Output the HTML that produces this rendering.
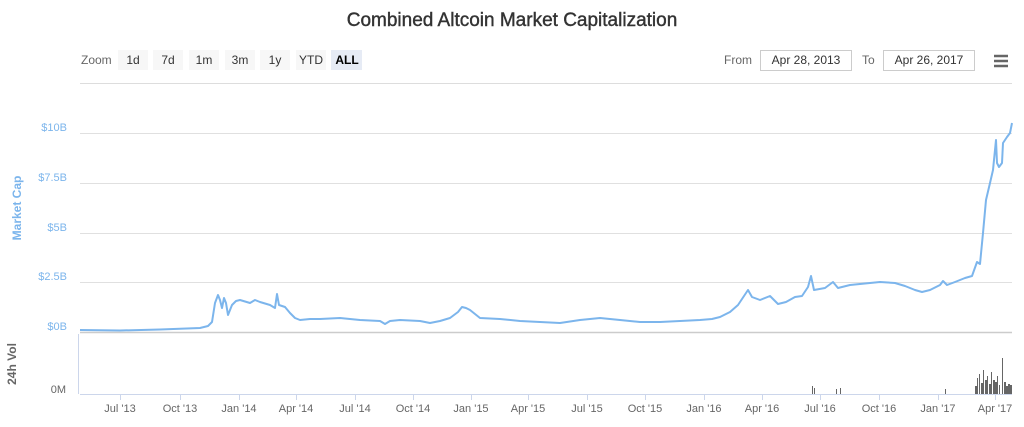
<!DOCTYPE html>
<html><head><meta charset="utf-8"><style>
body{margin:0;background:#fff;font-family:"Liberation Sans",sans-serif}
</style></head><body>
<svg width="1024" height="422" xmlns="http://www.w3.org/2000/svg" font-family="Liberation Sans, sans-serif">
<text x="512" y="26" text-anchor="middle" font-size="19" fill="#333" stroke="#333" stroke-width="0.4">Combined Altcoin Market Capitalization</text>
<text x="81" y="64" font-size="12" fill="#666">Zoom</text>
<g font-size="12" fill="#333" text-anchor="middle">
<rect x="118" y="50" width="30" height="20" fill="#f7f7f7"/><text x="133" y="64">1d</text>
<rect x="153" y="50" width="30" height="20" fill="#f7f7f7"/><text x="168" y="64">7d</text>
<rect x="189" y="50" width="30" height="20" fill="#f7f7f7"/><text x="204" y="64">1m</text>
<rect x="225" y="50" width="30" height="20" fill="#f7f7f7"/><text x="240" y="64">3m</text>
<rect x="260" y="50" width="30" height="20" fill="#f7f7f7"/><text x="275" y="64">1y</text>
<rect x="296" y="50" width="30" height="20" fill="#f7f7f7"/><text x="311" y="64">YTD</text>
<rect x="331" y="50" width="31" height="20" fill="#e6ebf5"/><text x="347" y="64" font-weight="bold" fill="#000">ALL</text>
</g>
<text x="724" y="64" font-size="12" fill="#666">From</text>
<rect x="760.5" y="50.5" width="91" height="20" fill="#fff" stroke="#ccc"/>
<text x="806" y="64" font-size="12" fill="#333" text-anchor="middle">Apr 28, 2013</text>
<text x="862" y="64" font-size="12" fill="#666">To</text>
<rect x="883.5" y="50.5" width="91" height="20" fill="#fff" stroke="#ccc"/>
<text x="929" y="64" font-size="12" fill="#333" text-anchor="middle">Apr 26, 2017</text>
<g stroke="#666" stroke-width="2.5"><line x1="994" y1="56" x2="1008" y2="56"/><line x1="994" y1="61" x2="1008" y2="61"/><line x1="994" y1="66" x2="1008" y2="66"/></g>
<line x1="80" y1="83.5" x2="1012" y2="83.5" stroke="#ddd"/>
<g stroke="#e0e0e0"><line x1="80" y1="133.5" x2="1012" y2="133.5"/><line x1="80" y1="183.5" x2="1012" y2="183.5"/><line x1="80" y1="233.5" x2="1012" y2="233.5"/><line x1="80" y1="282.5" x2="1012" y2="282.5"/></g>
<line x1="80" y1="332.5" x2="1012" y2="332.5" stroke="#ccc" stroke-width="1.5"/>
<g font-size="11" fill="#7cb5ec" text-anchor="end">
<text x="67" y="131">$10B</text><text x="67" y="181">$7.5B</text><text x="67" y="231">$5B</text><text x="67" y="280">$2.5B</text><text x="67" y="330">$0B</text>
</g>
<text transform="translate(21,208) rotate(-90)" text-anchor="middle" font-size="12" fill="#7cb5ec" font-weight="bold">Market Cap</text>
<text transform="translate(16,364) rotate(-90)" text-anchor="middle" font-size="12" fill="#666" font-weight="bold">24h Vol</text>
<text x="66" y="393" font-size="11" fill="#666" text-anchor="end">0M</text>
<line x1="78.5" y1="334" x2="78.5" y2="394" stroke="#ccd6eb"/>
<line x1="80" y1="394.5" x2="1012" y2="394.5" stroke="#ccd6eb"/>
<polyline fill="none" stroke="#7cb5ec" stroke-width="2" stroke-linejoin="round" points="80,330 120,330.5 160,329.5 200,328 208,326 212,322 215,303 218,295 220,300 222,308 224,298 226,303 228,315 232,305 236,301 240,300 250,303 255,300 260,302 270,305 275,308 277,294 279,305 285,307 290,313 295,318 300,320 310,319 320,319 340,318 360,320 380,321 385,324 390,321 400,320 420,321 430,323 440,321 450,318 458,312 462,307 466,308 470,310 480,318 500,319 520,321 540,322 560,323 580,320 600,318 620,320 640,322 660,322 680,321 700,320 712,319 720,317 730,312 738,305 744,296 748,290 752,297 760,300 770,296 778,304 786,302 795,297 802,296 808,287 811,276 814,290 825,288 833,282 838,288 850,285 860,284 880,282 895,283 905,286 915,290 922,292 930,290 940,285 943,281 947,285 955,282 965,278 972,276 977,262 980,264 983,233 986,200 990,183 993,170 996,140 997,163 999,167 1002,163 1003,143 1007,137 1010,133 1012,123"/>
<g fill="#666">
<rect x="812" y="386" width="1" height="8"/><rect x="814" y="388" width="1" height="6"/><rect x="836" y="389" width="1" height="5"/><rect x="840" y="388" width="1" height="6"/><rect x="945" y="389" width="1" height="5"/>
<rect x="975" y="386" width="2" height="8"/><rect x="977" y="378" width="1" height="16"/><rect x="979" y="374" width="1" height="20"/><rect x="981" y="383" width="2" height="11"/><rect x="983" y="370" width="1" height="24"/><rect x="985" y="380" width="2" height="14"/><rect x="987" y="376" width="1" height="18"/><rect x="989" y="384" width="2" height="10"/><rect x="991" y="372" width="1" height="22"/><rect x="993" y="380" width="2" height="14"/><rect x="995" y="382" width="2" height="12"/><rect x="997" y="376" width="1" height="18"/><rect x="999" y="385" width="1" height="9"/><rect x="1002" y="358" width="1" height="36"/><rect x="1004" y="382" width="2" height="12"/><rect x="1006" y="386" width="2" height="8"/><rect x="1008" y="384" width="2" height="10"/><rect x="1010" y="385" width="2" height="9"/>
</g>
<g stroke="#ccd6eb"><line x1="120.5" y1="395" x2="120.5" y2="400"/><line x1="180.5" y1="395" x2="180.5" y2="400"/><line x1="239.5" y1="395" x2="239.5" y2="400"/><line x1="296.5" y1="395" x2="296.5" y2="400"/><line x1="355.5" y1="395" x2="355.5" y2="400"/><line x1="413.5" y1="395" x2="413.5" y2="400"/><line x1="471.5" y1="395" x2="471.5" y2="400"/><line x1="528.5" y1="395" x2="528.5" y2="400"/><line x1="587.5" y1="395" x2="587.5" y2="400"/><line x1="645.5" y1="395" x2="645.5" y2="400"/><line x1="704.5" y1="395" x2="704.5" y2="400"/><line x1="762.5" y1="395" x2="762.5" y2="400"/><line x1="820.5" y1="395" x2="820.5" y2="400"/><line x1="879.5" y1="395" x2="879.5" y2="400"/><line x1="938.5" y1="395" x2="938.5" y2="400"/><line x1="995.5" y1="395" x2="995.5" y2="400"/></g>
<g font-size="11" fill="#666" text-anchor="middle">
<text x="120" y="412">Jul '13</text><text x="180" y="412">Oct '13</text><text x="239" y="412">Jan '14</text><text x="296" y="412">Apr '14</text><text x="355" y="412">Jul '14</text><text x="413" y="412">Oct '14</text><text x="471" y="412">Jan '15</text><text x="528" y="412">Apr '15</text><text x="587" y="412">Jul '15</text><text x="645" y="412">Oct '15</text><text x="704" y="412">Jan '16</text><text x="762" y="412">Apr '16</text><text x="820" y="412">Jul '16</text><text x="879" y="412">Oct '16</text><text x="938" y="412">Jan '17</text><text x="995" y="412">Apr '17</text>
</g>
</svg>
</body></html>
